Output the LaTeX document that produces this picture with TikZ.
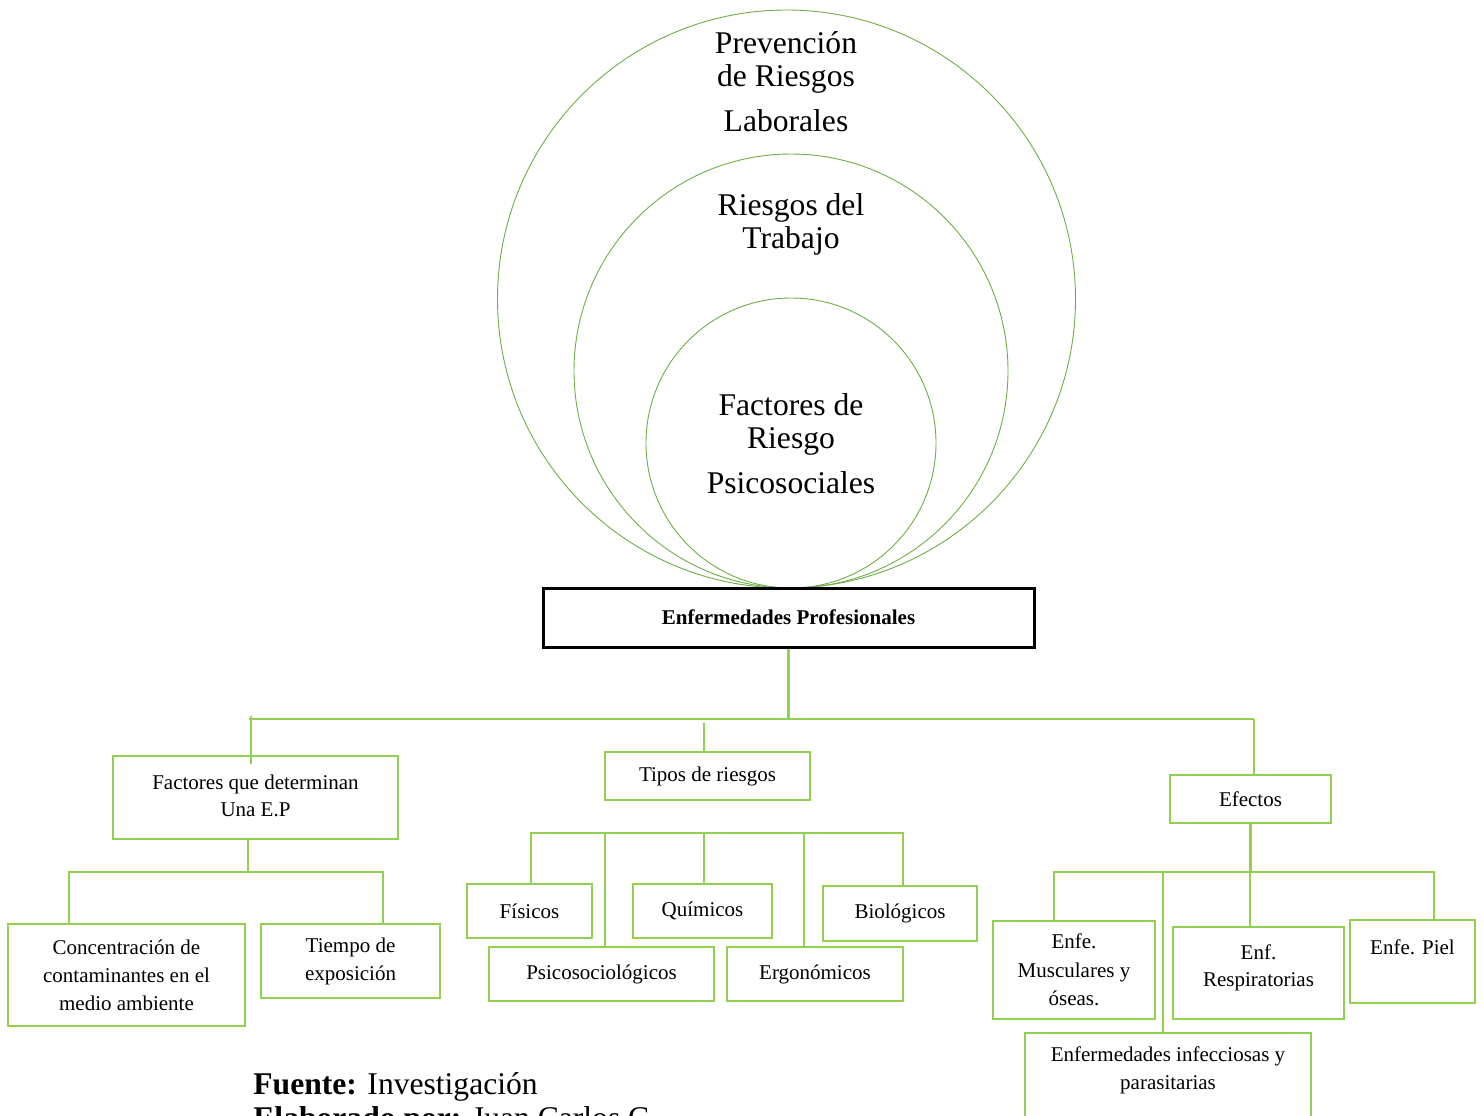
\documentclass[tikz,border=0pt]{standalone}
\usepackage{fontspec}
\setmainfont{Liberation Serif}
\definecolor{ringgreen}{HTML}{70AD47}
\definecolor{boxgreen}{HTML}{92D050}
\tikzset{
  box/.style={
    rectangle,
    draw=boxgreen,
    line width=1.2pt,
    align=center,
    inner sep=0pt,
    font=\fontsize{10.5}{13.5}\selectfont
  },
  ring/.style={circle, draw=ringgreen, line width=0.45pt, inner sep=0pt},
  ringtext/.style={align=center, font=\fontsize{15.8}{16.5}\selectfont},
  link/.style={draw=boxgreen, line width=1.2pt},
  dims/.style 2 args={minimum width=#1*0.5pt, minimum height=#2*0.5pt}
}

\begin{document}
\begin{tikzpicture}[x=0.5pt, y=-0.5pt]
    \useasboundingbox (0,0) rectangle (1484,1115);
    % nested circles
    \node[ring, minimum size=289pt] (prl) at (786.5,299) {};
    \node[ring, minimum size=217pt] (rdt) at (791,371) {};
    \node[ring, minimum size=145pt] (frp) at (791,443) {};
    \node[ringtext] (prltext) at (786,82) {Prevención\\de Riesgos\\[6pt]Laborales};
    \node[ringtext] (rdttext) at (791,224) {Riesgos del\\Trabajo};
    \node[ringtext] (frptext) at (791,444) {Factores de\\Riesgo\\[6pt]Psicosociales};
    % main box
    \node[rectangle, draw=black, line width=1.5pt, dims={491}{59}, font=\fontsize{10.5}{13}\selectfont\bfseries] (ep) at (788.5,617.5) {Enfermedades Profesionales\\[10pt]~};
    % first level
    \node[box, dims={285}{83}] (fac) at (255.5,797.5) {Factores que determinan\\Una E.P\\[-12pt]~};
    \node[box, dims={205}{48}] (tip) at (707.5,776) {Tipos de riesgos};
    \node[box, dims={161}{48}] (efe) at (1250.5,799) {Efectos};
    % factores
    \node[box, font=\fontsize{10.5}{14}\selectfont, dims={237}{102}] (con) at (126.5,975) {Concentración de\\contaminantes en el\\medio ambiente};
    \node[box, font=\fontsize{10.5}{14}\selectfont, dims={179}{74}] (tie) at (350.5,961) {Tiempo de\\exposición};
    % tipos
    \node[box, dims={125}{54}] (fis) at (529.5,911) {Físicos};
    \node[box, dims={139}{54}] (qui) at (702.5,911) {Químicos};
    \node[box, dims={154}{55}] (bio) at (900,913.5) {Biológicos};
    \node[box, dims={225}{54}] (psi) at (601.5,974) {Psicosociológicos};
    \node[box, dims={176}{54}] (erg) at (815,974) {Ergonómicos};
    % efectos
    \node[box, font=\fontsize{10.5}{14.2}\selectfont, dims={162}{98}] (mus) at (1074,970) {Enfe.\\Musculares y\\óseas.};
    \node[box, dims={171}{92}] (res) at (1258.5,973) {Enf.\\Respiratorias\\[-6pt]~};
    \node[box, dims={125}{83}] (pie) at (1412.5,961.5) {Enfe. Piel\\[1pt]~};
    \node[box, font=\fontsize{10.5}{14}\selectfont, dims={286}{110}] (inf) at (1168,1088) {Enfermedades infecciosas y\\parasitarias\\[6pt]~};
    % source
    \node[anchor=west, font=\fontsize{15.8}{16.5}\selectfont, inner sep=0pt] (src) at (253,1087) {\textbf{Fuente:} Investigación};
    \node[anchor=west, font=\fontsize{15.8}{16.5}\selectfont, inner sep=0pt] (auth) at (253,1121) {\textbf{Elaborado por:} Juan Carlos C};
    % connectors
    \coordinate (busL) at (249,719);
    \coordinate (busR) at (1254,719);
    \coordinate (tickF) at (251,716);
    \coordinate (tickT) at (704,723);
    \draw[link] (ep.south) -- (ep.south |- busL);
    \draw[link] (busL) -- (busR);
    \draw[link] (tickF) -- (tickF |- fac.north) -- ++(0,9);
    \draw[link] (tickT) -- (tickT |- tip.north);
    \draw[link] (busR) -- (busR |- efe.north);
    % factores branch
    \coordinate (subF) at (248,872);
    \coordinate (subL) at (69,872);
    \coordinate (subR) at (383,872);
    \draw[link] (subF |- fac.south) -- (subF);
    \draw[link] (subL |- con.north) -- (subL) -- (subR) -- (subR |- tie.north);
    % tipos branch
    \coordinate (rowA) at (531,833);
    \coordinate (rowB) at (903,833);
    \draw[link] (rowA |- fis.north) -- (rowA) -- (rowB) -- (rowB |- bio.north);
    \foreach \n/\x in {psi/605, qui/704, erg/804} {
      \coordinate (\n hub) at (\x,833);
      \draw[link] (\n hub) -- (\n hub |- \n.north);
    }
    % efectos branch
    \coordinate (effL) at (1054,872);
    \coordinate (effR) at (1434,872);
    \draw[link] (efe.south) -- (efe.south |- effL);
    \draw[link] (effL |- mus.north) -- (effL) -- (effR) -- (effR |- pie.north);
    \foreach \n/\x in {inf/1163, res/1250} {
      \coordinate (\n hub) at (\x,872);
      \draw[link] (\n hub) -- (\n hub |- \n.north);
    }
\end{tikzpicture}
\end{document}
